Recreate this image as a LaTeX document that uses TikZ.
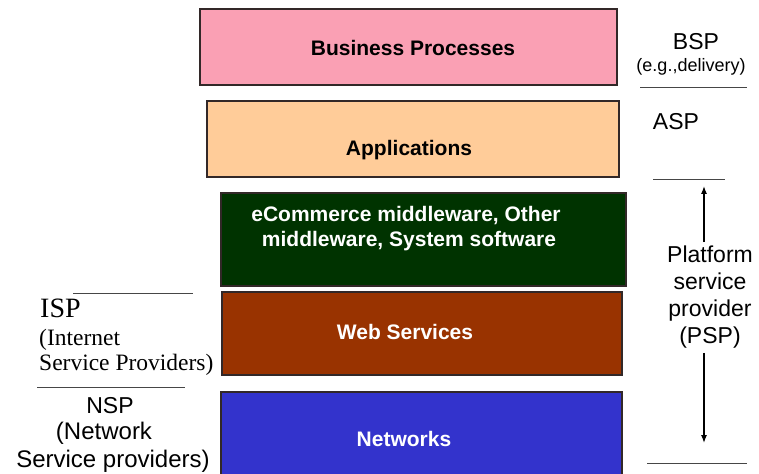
\documentclass[tikz,border=0pt]{standalone}
\usepackage{fontspec}
\setmainfont{Liberation Serif}
\setsansfont{Liberation Sans}
\usetikzlibrary{arrows.meta}
\definecolor{bpink}{RGB}{250,160,180}
\definecolor{bpeach}{RGB}{255,204,153}
\definecolor{bgreen}{RGB}{0,51,0}
\definecolor{bbrown}{RGB}{153,51,0}
\definecolor{bblue}{RGB}{51,51,204}
\definecolor{edge}{RGB}{50,40,40}
\definecolor{rule}{RGB}{70,70,70}
\begin{document}
\begin{tikzpicture}[x=1bp,y=-1bp,
  layer/.style={draw=edge, line width=1.1bp},
  boxtext/.style={font=\sffamily\bfseries\fontsize{21bp}{26bp}\selectfont, anchor=base, inner sep=0pt},
  rtext/.style={font=\sffamily\fontsize{23bp}{27bp}\selectfont, anchor=base, inner sep=0pt},
  ltext/.style={font=\rmfamily\fontsize{23.5bp}{27bp}\selectfont, anchor=base west, inner sep=0pt},
  sep/.style={draw=rule, line width=0.9bp},
  arr/.style={line width=1.2bp, -{Latex[length=8bp,width=6bp]}}
]
\useasboundingbox (0,0) rectangle (759,474);
% layers
\path[layer, fill=bpink]  (200,9)   rectangle (617,85);
\path[layer, fill=bpeach] (207,101) rectangle (619,177);
\path[layer, fill=bgreen] (221,193) rectangle (626,286);
\path[layer, fill=bbrown] (222,292) rectangle (622,375);
\path[layer, fill=bblue]  (221,392) rectangle (622,490);
% box texts
\node[boxtext] (tbp)  at (413,56)  {Business Processes};
\node[boxtext] (tapp) at (409,156) {Applications};
\node[boxtext, text=white] (tmw1) at (406,222) {eCommerce middleware, Other};
\node[boxtext, text=white] (tmw2) at (409,247) {middleware, System software};
\node[boxtext, text=white] (tweb) at (405,340) {Web Services};
\node[boxtext, text=white] (tnet) at (404,446) {Networks};
% right labels
\node[rtext] (bsp) at (696,50) {BSP};
\node[rtext, font=\sffamily\fontsize{18bp}{22bp}\selectfont] (bspx) at (691,72) {(e.g.,delivery)};
\draw[sep] (640,87) -- (747,87);
\node[rtext] (asp) at (676,130) {ASP};
\draw[sep] (653,179) -- (725,179);
\coordinate (atop) at (704,186);
\coordinate (abot) at (704,443);
\node[font=\sffamily\fontsize{23bp}{27bp}\selectfont, align=center, inner sep=4bp, anchor=base] (psp) at (710,344)
  {Platform\\service\\provider\\(PSP)};
\draw[arr] (psp.north -| atop) -- (atop);
\draw[arr] (psp.south -| abot) -- (abot);
\draw[sep] (647,463) -- (747,463);
% left labels
\draw[sep] (73,293) -- (193,293);
\node[ltext, font=\rmfamily\fontsize{28bp}{30bp}\selectfont] (isp) at (40,318) {ISP};
\node[ltext] (isp2) at (39,346) {(Internet};
\node[ltext] (isp3) at (39,371) {Service Providers)};
\draw[sep] (37,387) -- (185,387);
\node[rtext] (nsp) at (110,413) {NSP};
\node[rtext, font=\sffamily\fontsize{24bp}{27bp}\selectfont] (nsp2) at (104,439) {(Network};
\node[rtext, font=\sffamily\fontsize{24bp}{27bp}\selectfont] (nsp3) at (113,467) {Service providers)};
\end{tikzpicture}
\end{document}
